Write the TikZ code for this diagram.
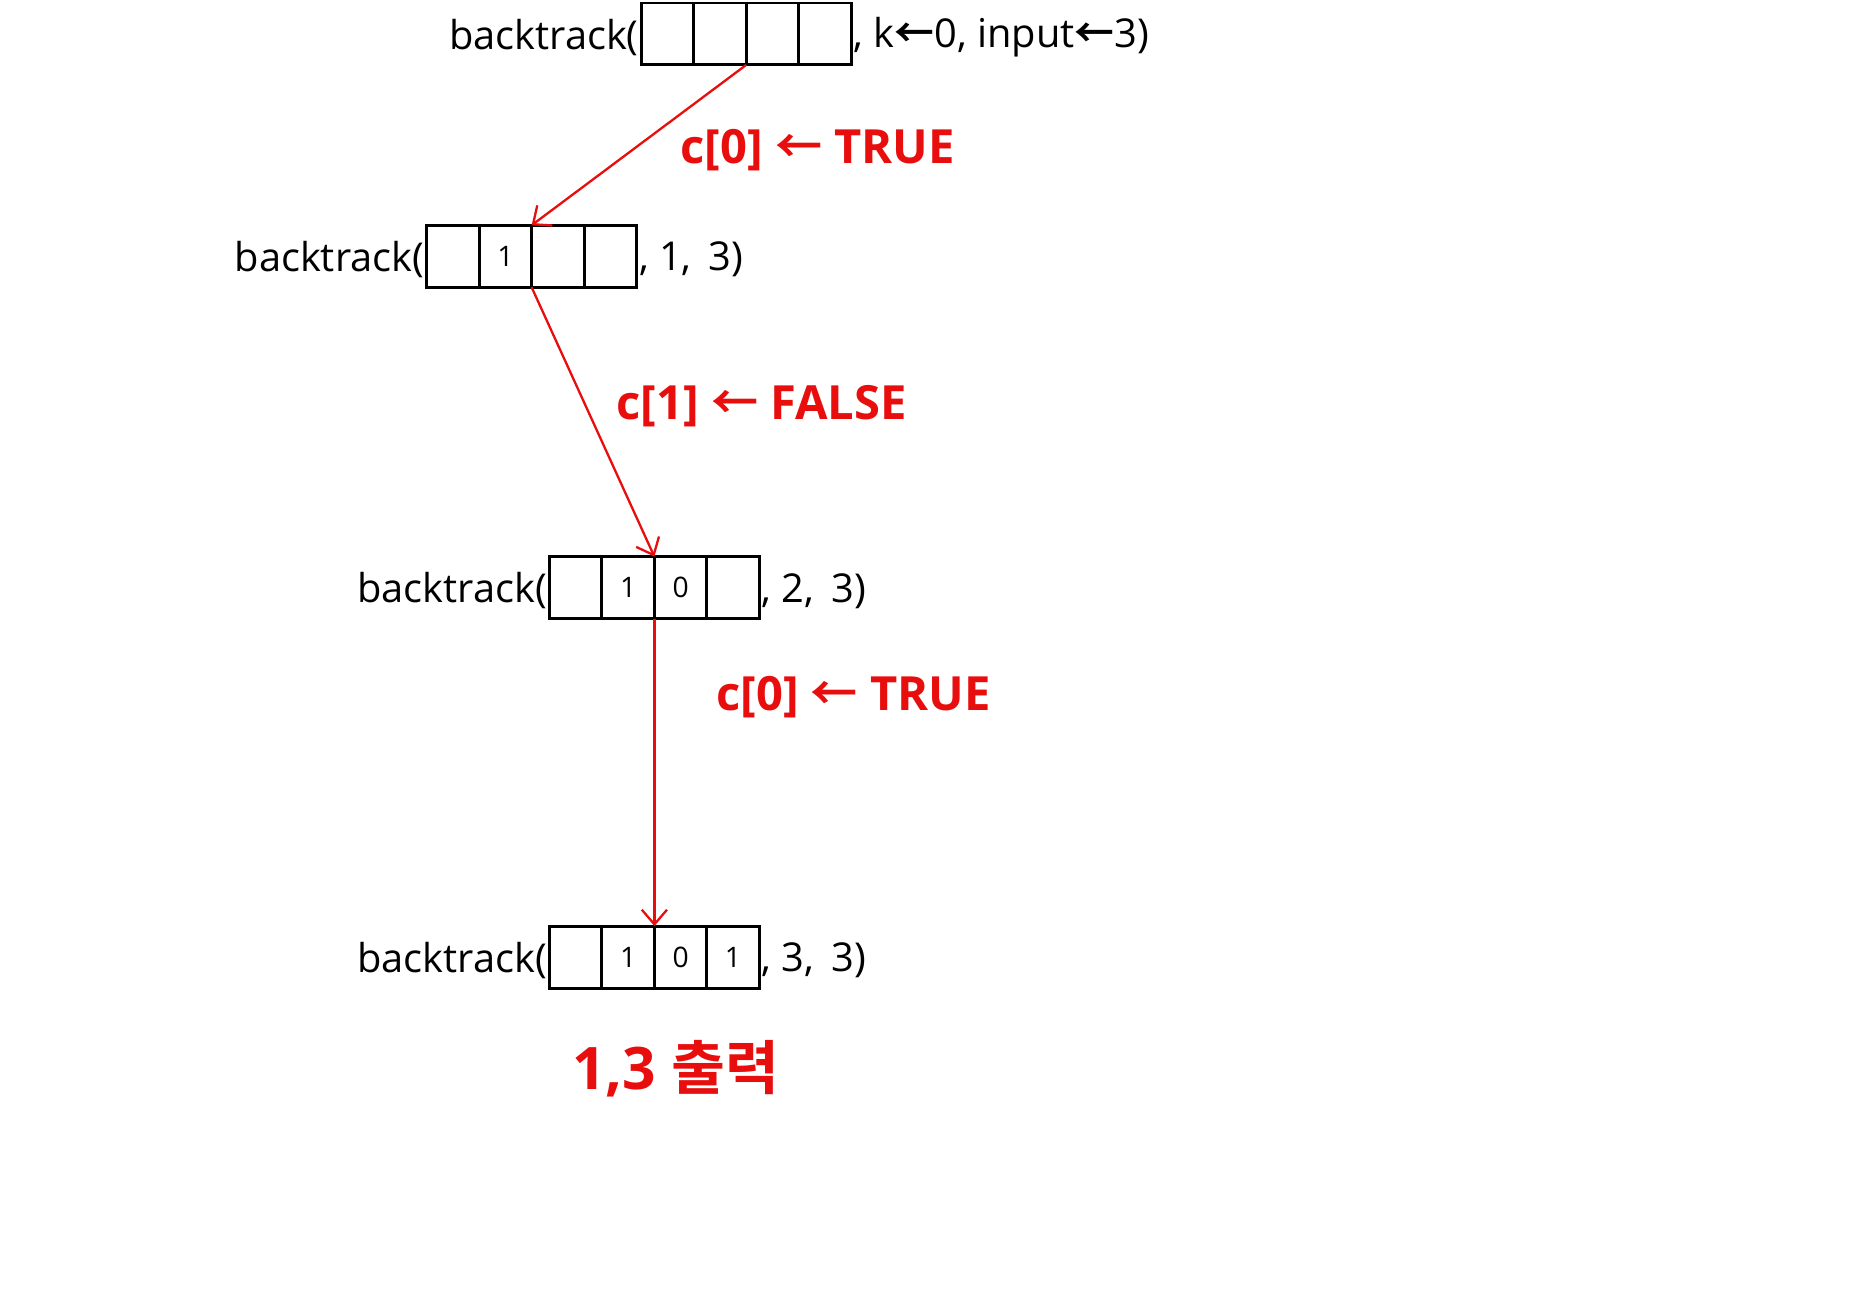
\documentclass[tikz,border=0pt]{standalone}
\usepackage{fontspec}
\setmainfont{Open Sans}
\newfontfamily\cjk{Noto Sans CJK KR}[BoldFont={Noto Sans CJK KR Bold}]
\usetikzlibrary{arrows.meta}
\definecolor{figRouge}{RGB}{232,14,14}

\begin{document}
\begin{tikzpicture}[
  x=0.02cm, y=-0.02cm,
  every node/.style={font=\fontsize{19}{22}\selectfont},
  cell/.style={draw, line width=1.4pt, minimum width=0.88cm, minimum height=1.04cm,
               inner sep=0pt, outer sep=0pt, font=\fontsize{13.5}{15}\selectfont},
  call/.style={anchor=east, inner sep=1pt},
  args/.style={anchor=west, inner sep=1pt},
  lbl/.style={text=figRouge, font=\fontsize{22.5}{26}\selectfont\bfseries},
  res/.style={text=figRouge, font=\fontsize{28}{32}\selectfont\bfseries},
  fl/.style={-{Straight Barb[length=7pt,width=12pt]}, line width=1.1pt, figRouge}
]
\useasboundingbox (0,0) rectangle (1568,1091);

\node[cell] (a1) at (560,28.5) {};
\node[cell] (a2) at (604,28.5) {};
\node[cell] (a3) at (648,28.5) {};
\node[cell] (a4) at (692,28.5) {};
\node[call] (fa) at ([yshift=-1.5pt]a1.west) {backtrack(};
\node[args] (ta) at ([yshift=-1.5pt]a4.east) {, k{\cjk\bfseries ←}0, input{\cjk\bfseries ←}3)};

\node[cell] (b1) at (380,215) {};
\node[cell] (b2) at (424,215) {1};
\node[cell] (b3) at (468,215) {};
\node[cell] (b4) at (512,215) {};
\node[call] (fb) at ([yshift=-1.5pt]b1.west) {backtrack(};
\node[args] (tb) at ([yshift=-1.5pt]b4.east) {, 1,\, 3)};

\node[cell] (c1) at (483,493) {};
\node[cell] (c2) at (527,493) {1};
\node[cell] (c3) at (571,493) {0};
\node[cell] (c4) at (615,493) {};
\node[call] (fc) at ([yshift=-1.5pt]c1.west) {backtrack(};
\node[args] (tc) at ([yshift=-1.5pt]c4.east) {, 2,\, 3)};

\node[cell] (d1) at (483,803) {};
\node[cell] (d2) at (527,803) {1};
\node[cell] (d3) at (571,803) {0};
\node[cell] (d4) at (615,803) {1};
\node[call] (fd) at ([yshift=-1.5pt]d1.west) {backtrack(};
\node[args] (td) at ([yshift=-1.5pt]d4.east) {, 3,\, 3)};

\draw[fl] (a2.south east) -- (b3.north west);
\draw[fl] (b3.south west) -- (c3.north west);
\draw[fl] (c3.south west) -- (d3.north west);

\node[lbl] (la) at (686,126) {c[0] {\cjk\bfseries ←} TRUE};
\node[lbl] (lb) at (639,341) {c[1] {\cjk\bfseries ←} FALSE};
\node[lbl] (lc) at (716,585) {c[0] {\cjk\bfseries ←} TRUE};

\node[res] (out) at (567,897) {1,3 {\cjk 출력}};

\end{tikzpicture}
\end{document}
